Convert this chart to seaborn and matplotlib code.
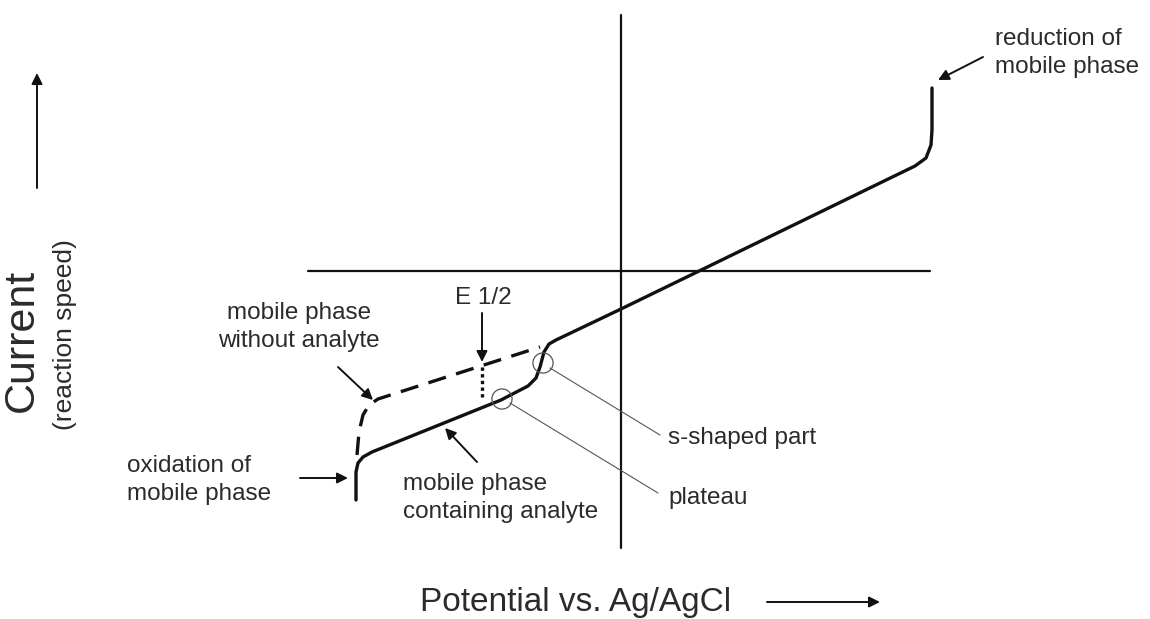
import numpy as np
import pandas as pd
import matplotlib
matplotlib.use("Agg")
import matplotlib.pyplot as plt
import seaborn as sns

# schematic voltammogram, potential (x) vs current (y), origin at the axis cross
solid_potential = [-2.65, -2.65, -2.63, -2.58, -2.49, -1.20, -0.93, -0.85, -0.81,
                   -0.77, -0.72, -0.65, 0.00, 2.59, 2.94, 3.05, 3.10, 3.11, 3.11]
solid_current = [-2.29, -2.01, -1.92, -1.86, -1.81, -1.29, -1.15, -1.07, -0.96,
                 -0.81, -0.73, -0.69, -0.38, 0.88, 1.05, 1.13, 1.26, 1.41, 1.83]

dashed_potential = [-2.64, -2.62, -2.58, -2.52, -2.43, -0.81]
dashed_current = [-1.84, -1.61, -1.44, -1.34, -1.28, -0.76]

half_wave_potential = [-1.39, -1.39]
half_wave_current = [-0.96, -1.26]

marker_labels = ["s-shaped part", "plateau"]
marker_potential = [-0.78, -1.19]
marker_current = [-0.92, -1.28]

INK = "#111111"
TEXT = "#2b2b2b"
FS = 17.5
LS = 1.3

sns.set_style("white")
plt.rcParams["font.family"] = ["Liberation Sans", "DejaVu Sans"]

fig = plt.figure(figsize=(11.5, 6.19), dpi=100)
ax = fig.add_axes([0, 0, 1, 1])
ax.set_xlim(-6.21, 5.29)
ax.set_ylim(-3.48, 2.71)
ax.axis("off")

# coordinate cross
ax.plot([-3.13, 3.09], [0, 0], color=INK, lw=1.6)
ax.plot([0, 0], [-2.77, 2.56], color=INK, lw=1.6)

solid = pd.DataFrame({"potential": solid_potential, "current": solid_current})
dashed = pd.DataFrame({"potential": dashed_potential, "current": dashed_current})
half = pd.DataFrame({"potential": half_wave_potential, "current": half_wave_current})

sns.lineplot(data=solid, x="potential", y="current", sort=False, estimator=None,
             color=INK, lw=2.4, ax=ax)
sns.lineplot(data=dashed, x="potential", y="current", sort=False, estimator=None,
             color=INK, lw=2.4, ax=ax, linestyle=(0, (5.5, 3.2)))
sns.lineplot(data=half, x="potential", y="current", sort=False, estimator=None,
             color=INK, lw=2.4, ax=ax, linestyle=(0, (1, 1)))

ax.scatter(marker_potential, marker_current, s=210, facecolors="none",
           edgecolors="#555555", linewidths=0.9, zorder=3)

thin = dict(arrowstyle="-", color="#555555", lw=0.8, shrinkA=0, shrinkB=0)
arrow = dict(arrowstyle="-|>", color=INK, lw=1.4, mutation_scale=16,
             shrinkA=0, shrinkB=0)

# leader lines to the markers
ax.annotate("", xy=(-0.71, -0.97), xytext=(0.39, -1.64), arrowprops=thin)
ax.annotate("", xy=(-1.11, -1.32), xytext=(0.37, -2.22), arrowprops=thin)
ax.text(0.47, -1.67, marker_labels[0], fontsize=FS, color=TEXT, ha="left", va="center")
ax.text(0.47, -2.27, marker_labels[1], fontsize=FS, color=TEXT, ha="left", va="center")

ax.text(3.74, 2.18, "reduction of\nmobile phase", fontsize=FS, color=TEXT,
        ha="left", va="center", linespacing=LS)
ax.annotate("", xy=(3.17, 1.91), xytext=(3.62, 2.14), arrowprops=arrow)

ax.text(-3.22, -0.56, "mobile phase\nwithout analyte", fontsize=FS, color=TEXT,
        ha="center", va="center", linespacing=LS)
ax.annotate("", xy=(-2.48, -1.29), xytext=(-2.83, -0.96), arrowprops=arrow)

ax.text(-1.38, -0.27, "E 1/2", fontsize=FS, color=TEXT, ha="center", va="center")
ax.annotate("", xy=(-1.39, -0.91), xytext=(-1.39, -0.42), arrowprops=arrow)

ax.text(-4.94, -2.09, "oxidation of\nmobile phase", fontsize=FS, color=TEXT,
        ha="left", va="center", linespacing=LS)
ax.annotate("", xy=(-2.73, -2.07), xytext=(-3.21, -2.07), arrowprops=arrow)

ax.text(-2.18, -2.27, "mobile phase\ncontaining analyte", fontsize=FS, color=TEXT,
        ha="left", va="center", linespacing=LS)
ax.annotate("", xy=(-1.76, -1.57), xytext=(-1.44, -1.91), arrowprops=arrow)

# axis titles with direction arrows
ax.text(-5.99, -0.69, "Current", fontsize=31, color=TEXT, rotation=90,
        ha="center", va="center")
ax.text(-5.56, -0.64, "(reaction speed)", fontsize=19, color=TEXT, rotation=90,
        ha="center", va="center")
ax.annotate("", xy=(-5.84, 1.98), xytext=(-5.84, 0.83), arrowprops=arrow)

ax.text(-0.45, -3.32, "Potential vs. Ag/AgCl", fontsize=24, color=TEXT,
        ha="center", va="center")
ax.annotate("", xy=(2.59, -3.31), xytext=(1.46, -3.31), arrowprops=arrow)

fig.savefig("out.png", dpi=100, facecolor="white")
